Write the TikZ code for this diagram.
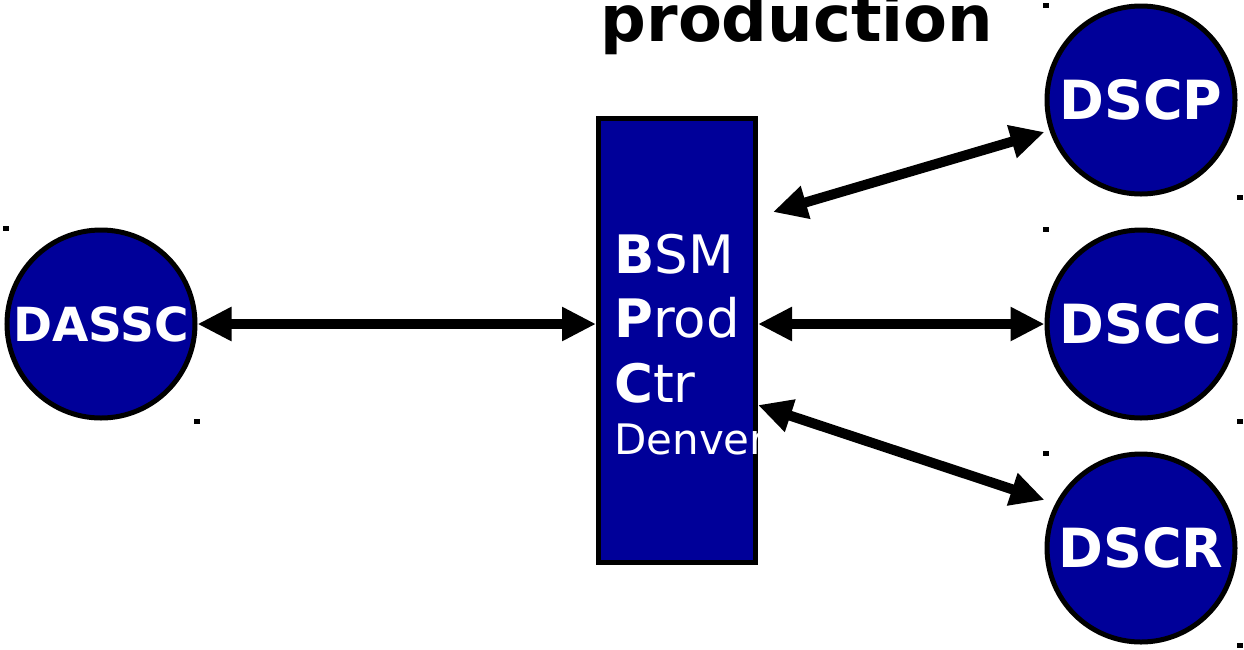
\documentclass[tikz,border=0pt]{standalone}
\usepackage{fontspec}
\setmainfont{DejaVu Sans}
\usetikzlibrary{arrows.meta}
\definecolor{nodeblue}{RGB}{0,0,153}
\begin{document}
\begin{tikzpicture}[x=1pt,y=-1pt,
  station/.style={circle, draw=black, line width=5pt, fill=nodeblue, text=white,
    minimum size=188pt, inner sep=0pt, outer sep=2.5pt,
    font=\bfseries\fontsize{54}{60}\selectfont},
  link/.style={line width=10pt,
    {Triangle[length=34pt,width=32pt]}-{Triangle[length=34pt,width=32pt]}},
  marker/.style={fill=black, minimum width=6pt, minimum height=5pt, inner sep=0pt, outer sep=0pt},
  centretext/.style={anchor=base west, inner sep=0pt, text=white}]
\useasboundingbox (0,0) rectangle (1244,649);

\node[font=\bfseries\fontsize{64}{70}\selectfont, anchor=base, inner sep=0pt] (title) at (797,41) {production};

\node[station, font=\bfseries\fontsize{47}{52}\selectfont] (DASSC) at (101,324) {\raisebox{-3pt}{DASSC}};
\node[station] (DSCP) at (1141,100) {\raisebox{-3pt}{DSCP}};
\node[station] (DSCC) at (1141,324) {\raisebox{-3pt}{DSCC}};
\node[station] (DSCR) at (1141,548) {\raisebox{-3pt}{DSCR}};

\node[draw=black, line width=5pt, fill=nodeblue, minimum width=157pt, minimum height=444pt,
  inner sep=0pt, outer sep=2.5pt] (BPC) at (677,340.5) {};

\begin{scope}
  \clip (BPC.north west) rectangle (BPC.south east);
  \node[centretext, font=\fontsize{53}{60}\selectfont] (l1) at (614,273) {\textbf{B}SM};
  \node[centretext, font=\fontsize{53}{60}\selectfont] (l2) at (614,337) {\textbf{P}rod};
  \node[centretext, font=\fontsize{53}{60}\selectfont] (l3) at (614,402) {\textbf{C}tr};
  \node[centretext, font=\fontsize{42}{46}\selectfont] (l4) at (614,454) {Denver};
\end{scope}

\coordinate (pEnd) at (773,212);
\draw[link] (DASSC.east) -- (BPC.west |- DASSC.east);
\draw[link] (BPC.east |- DSCC.west) -- (DSCC.west);
\draw[link] (pEnd) -- ([yshift=-32pt]DSCP.west);
\draw[link] ([yshift=-64.5pt]BPC.east) -- ([yshift=48pt]DSCR.west);

\node[marker] (m1) at (6,228) {};
\node[marker] (m2) at (197,421) {};
\node[marker] (m3) at (1046,5) {};
\node[marker] (m4) at (1240,197) {};
\node[marker] (m5) at (1046,229) {};
\node[marker] (m6) at (1240,421) {};
\node[marker] (m7) at (1046,453) {};
\node[marker] (m8) at (1240,645) {};
\end{tikzpicture}
\end{document}
